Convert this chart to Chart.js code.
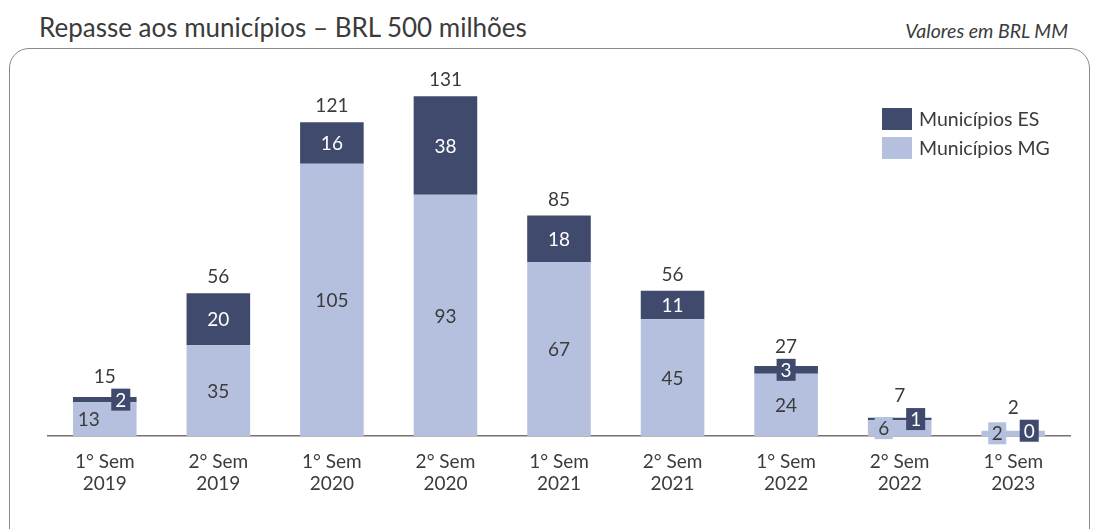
<!DOCTYPE html>
<html>
<head>
<meta charset="utf-8">
<script src="https://cdn.jsdelivr.net/npm/chart.js@4.4.1/dist/chart.umd.min.js"></script>
<style>
  html, body { margin: 0; padding: 0; background: #fff; }
  #wrap { position: relative; width: 1094px; height: 529px; overflow: hidden; font-family: Lato, "Noto Sans", sans-serif; color: #3b3b3b; }
  #title { position: absolute; left: 39px; top: 11px; font-size: 26px; }
  #sub { position: absolute; right: 26px; top: 19px; font-size: 19.5px; font-style: italic; }
  #frame { position: absolute; left: 9px; top: 48px; width: 1079px; height: 520px; border: 1.5px solid #8a8a8a; border-radius: 20px; }
  #chartBox { position: absolute; left: 0; top: 0; width: 1094px; height: 529px; }
  #legend { position: absolute; left: 882px; top: 104px; font-size: 19.5px; }
  .li { display: flex; align-items: center; height: 29px; }
  .sw { width: 30px; height: 22px; margin-right: 7px; }
</style>
</head>
<body>
<div id="wrap">
  <div id="title">Repasse aos municípios – BRL 500 milhões</div>
  <div id="sub">Valores em BRL MM</div>
  <div id="frame"></div>
  <div id="chartBox"><canvas id="c" width="1094" height="529"></canvas></div>
  <div id="legend"></div>
</div>
<script>
const categories = [
  ["1° Sem", "2019"], ["2° Sem", "2019"], ["1° Sem", "2020"],
  ["2° Sem", "2020"], ["1° Sem", "2021"], ["2° Sem", "2021"],
  ["1° Sem", "2022"], ["2° Sem", "2022"], ["1° Sem", "2023"]
];
const municipiosMG = [13, 35, 105, 93, 67, 45, 24, 6, 2];
const municipiosES = [2, 20, 16, 38, 18, 11, 3, 1, 0];
const totais = [15, 56, 121, 131, 85, 56, 27, 7, 2];

const DARK = "#3f4a6d";
const LIGHT = "#b4c0de";
const TEXT = "#3b3b3b";
const FONT = "Lato, 'Noto Sans', sans-serif";

// rótulos de valor dentro / acima das barras
const labelPlugin = {
  id: "valueLabels",
  afterDatasetsDraw(chart) {
    const ctx = chart.ctx;
    const mg = chart.getDatasetMeta(0).data;
    const es = chart.getDatasetMeta(1).data;
    ctx.save();
    ctx.font = "19px " + FONT;
    ctx.textAlign = "center";
    ctx.textBaseline = "middle";
    for (let i = 0; i < categories.length; i++) {
      const a = mg[i], b = es[i];
      const hA = a.base - a.y;
      const hB = b.base - b.y;
      const split = hA < 40;
      const xA = split ? a.x - 16 : a.x;
      const xB = split ? b.x + 16 : b.x;
      const yA = (a.base + a.y) / 2;
      const yB = (b.base + b.y) / 2;

      // ES
      const tB = String(municipiosES[i]);
      let top = b.y;
      if (hB < 24) {
        const w = ctx.measureText(tB).width + 8;
        ctx.fillStyle = DARK;
        ctx.fillRect(xB - w / 2, yB - 11, w, 22);
        top = Math.min(top, yB - 11) + 4;
      }
      ctx.fillStyle = "#ffffff";
      ctx.fillText(tB, xB, yB + 1);

      // MG
      const tA = String(municipiosMG[i]);
      if (hA < 20) {
        const w = ctx.measureText(tA).width + 7;
        ctx.fillStyle = LIGHT;
        ctx.fillRect(xA - w / 2, yA - 11, w, 22);
      }
      ctx.fillStyle = TEXT;
      ctx.fillText(tA, xA, yA + 1);

      // total
      ctx.fillStyle = TEXT;
      ctx.fillText(String(totais[i]), a.x, top - 16);
    }
    ctx.restore();
  }
};

const chart = new Chart(document.getElementById("c"), {
  type: "bar",
  data: {
    labels: categories,
    datasets: [
      { label: "Municípios MG", data: municipiosMG, backgroundColor: LIGHT },
      { label: "Municípios ES", data: municipiosES, backgroundColor: DARK }
    ]
  },
  options: {
    responsive: false,
    animation: false,
    layout: { padding: { left: 48, right: 24, top: 73, bottom: 19 } },
    datasets: { bar: { categoryPercentage: 1, barPercentage: 0.56 } },
    scales: {
      x: {
        stacked: true,
        grid: { display: false, drawTicks: false },
        border: { display: true, color: "#7a7070", width: 1.5 },
        ticks: { color: TEXT, font: { family: FONT, size: 19, lineHeight: 1.16 }, padding: 15, maxRotation: 0 }
      },
      y: { stacked: true, display: false, min: 0, max: 140 }
    },
    plugins: { legend: { display: false }, tooltip: { enabled: false } }
  },
  plugins: [labelPlugin]
});

// legenda em HTML (ES primeiro, como na figura)
const legend = document.getElementById("legend");
[1, 0].forEach((k) => {
  const ds = chart.data.datasets[k];
  const row = document.createElement("div");
  row.className = "li";
  row.innerHTML = '<div class="sw" style="background:' + ds.backgroundColor + '"></div><span>' + ds.label + "</span>";
  legend.appendChild(row);
});
</script>
</body>
</html>
